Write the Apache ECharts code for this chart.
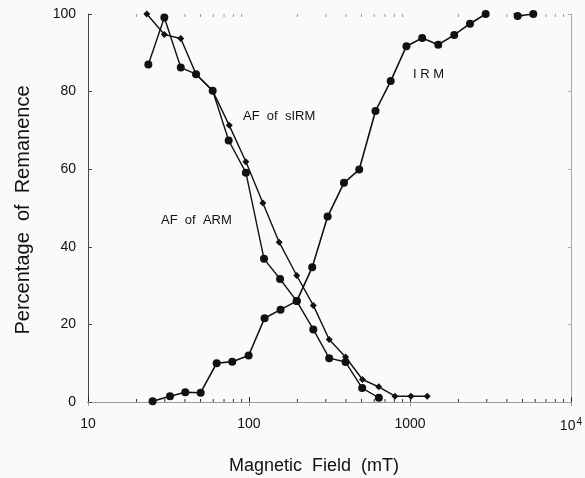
<!DOCTYPE html>
<html>
<head>
<meta charset="utf-8">
<script src="https://cdn.jsdelivr.net/npm/echarts@6/dist/echarts.min.js"></script>
<style>
    html, body { margin: 0; padding: 0; background: #fafafa; }
    #chart { width: 585px; height: 478px; }
</style>
</head>
<body>
<div id="chart"></div>
<script>
// 读取自图片的数据 (field in mT, remanence in %)
var irmField = [25.2, 32.3, 40.2, 50.1, 63, 78.7, 99.5, 125, 157, 198, 247, 308, 389, 484, 611, 759, 951, 1191, 1499, 1884, 2360, 2953, 3700, 4667, 5837];
var irmValue = [0.2, 1.5, 2.5, 2.4, 10.0, 10.4, 12.0, 21.6, 23.8, 26.0, 34.7, 47.8, 56.5, 59.9, 75.0, 82.7, 91.7, 93.8, 92.1, 94.6, 97.5, 100, 103, 99.5, 100];

var armField = [23.7, 29.8, 37.7, 46.9, 59.5, 74.8, 95.7, 124, 156, 198, 251, 315, 398, 505, 641];
var armValue = [87.0, 99.1, 86.2, 84.5, 80.2, 67.4, 59.1, 36.9, 31.7, 26.0, 18.7, 11.3, 10.3, 3.6, 1.1];

var sirmField = [23.2, 29.8, 37.7, 46.9, 59.5, 75.4, 95.7, 122, 154, 198, 251, 315, 398, 507, 640, 807, 1014, 1280];
var sirmValue = [100, 94.7, 93.7, 84.5, 80.2, 71.3, 61.9, 51.3, 41.2, 32.6, 24.9, 16.1, 11.6, 5.8, 3.9, 1.5, 1.5, 1.5];

var xMinorTicks = [20, 30, 40, 50, 60, 70, 80, 90, 200, 300, 400, 500, 600, 700, 800, 900, 2000, 3000, 4000, 5000, 6000, 7000, 8000, 9000];

var FONT = '"Liberation Sans", Arial, sans-serif';

function zip(xs, ys) {
    var out = [];
    for (var i = 0; i < xs.length; i++) out.push([xs[i], ys[i]]);
    return out;
}

var myChart = echarts.init(document.getElementById('chart'), null, { renderer: 'canvas' });

var option = {
    backgroundColor: '#fafafa',
    animation: false,
    grid: { left: 88, right: 14, top: 14, bottom: 76 },
    xAxis: [{
        type: 'log',
        min: 10,
        max: 10000,
        logBase: 10,
        axisLine: { lineStyle: { color: '#222', width: 1 } },
        axisTick: { inside: true, length: 5, lineStyle: { color: '#222' } },
        splitLine: { show: false },
        axisLabel: {
            margin: 15,
            color: '#111',
            fontFamily: FONT,
            fontSize: 14,
            formatter: function (v) {
                if (v >= 10000) return '{b|10}{s|4}';
                return '{b|' + v + '}';
            },
            rich: {
                b: { fontSize: 14, fontFamily: FONT, color: '#111' },
                s: { fontSize: 10, fontFamily: FONT, color: '#111', verticalAlign: 'top', padding: [0, 0, 9, 1] }
            }
        }
    }, {
        type: 'log',
        position: 'top',
        min: 10,
        max: 10000,
        axisLine: { lineStyle: { color: '#999', width: 1 } },
        axisTick: { inside: true, length: 4, lineStyle: { color: '#999' } },
        axisLabel: { show: false },
        splitLine: { show: false }
    }],
    yAxis: [{
        type: 'value',
        min: 0,
        max: 100,
        interval: 20,
        axisLine: { show: true, lineStyle: { color: '#444', width: 1 } },
        axisTick: { show: true, inside: true, length: 4, lineStyle: { color: '#444' } },
        splitLine: { show: false },
        axisLabel: { margin: 12, color: '#111', fontFamily: FONT, fontSize: 14 }
    }, {
        type: 'value',
        position: 'right',
        min: 0,
        max: 100,
        interval: 20,
        axisLine: { show: true, lineStyle: { color: '#aaa', width: 1 } },
        axisTick: { show: true, inside: true, length: 3, lineStyle: { color: '#aaa' } },
        axisLabel: { show: false },
        splitLine: { show: false }
    }],
    series: [{
        name: 'minor ticks',
        type: 'custom',
        silent: true,
        clip: false,
        data: xMinorTicks.map(function (v) { return [v]; }),
        renderItem: function (params, api) {
            var pb = api.coord([api.value(0), 0]);
            var pt = api.coord([api.value(0), 100]);
            return {
                type: 'group',
                children: [{
                    type: 'line',
                    shape: { x1: pb[0], y1: pb[1], x2: pb[0], y2: pb[1] - 3 },
                    style: { stroke: '#333', lineWidth: 1 }
                }, {
                    type: 'line',
                    shape: { x1: pt[0], y1: pt[1], x2: pt[0], y2: pt[1] + 3 },
                    style: { stroke: '#999', lineWidth: 1 }
                }]
            };
        }
    }, {
        name: 'IRM',
        type: 'line',
        data: zip(irmField, irmValue),
        symbol: 'circle',
        symbolSize: 8,
        clip: true,
        lineStyle: { color: '#111', width: 1.6 },
        itemStyle: { color: '#111' }
    }, {
        name: 'AF of ARM',
        type: 'line',
        data: zip(armField, armValue),
        symbol: 'circle',
        symbolSize: 8,
        lineStyle: { color: '#111', width: 1.4 },
        itemStyle: { color: '#111' }
    }, {
        name: 'AF of sIRM',
        type: 'line',
        data: zip(sirmField, sirmValue),
        symbol: 'diamond',
        symbolSize: 7,
        lineStyle: { color: '#111', width: 1.4 },
        itemStyle: { color: '#111' }
    }],
    graphic: [{
        type: 'text',
        left: 243, top: 110,
        style: { text: 'AF  of  sIRM', font: '13px ' + FONT, fill: '#111' }
    }, {
        type: 'text',
        left: 161, top: 214,
        style: { text: 'AF  of  ARM', font: '13px ' + FONT, fill: '#111' }
    }, {
        type: 'text',
        left: 413, top: 68,
        style: { text: 'I R M', font: '13px ' + FONT, fill: '#111' }
    }, {
        type: 'text',
        x: 314, y: 466,
        style: { text: 'Magnetic  Field  (mT)', font: '18px ' + FONT, fill: '#111', align: 'center', verticalAlign: 'middle' }
    }, {
        type: 'text',
        x: 23, y: 210,
        rotation: Math.PI / 2,
        style: { text: 'Percentage  of  Remanence', font: '20px ' + FONT, fill: '#111', align: 'center', verticalAlign: 'middle' }
    }]
};

myChart.setOption(option);
window.addEventListener('resize', function () {
    myChart.resize();
});
</script>
</body>
</html>
